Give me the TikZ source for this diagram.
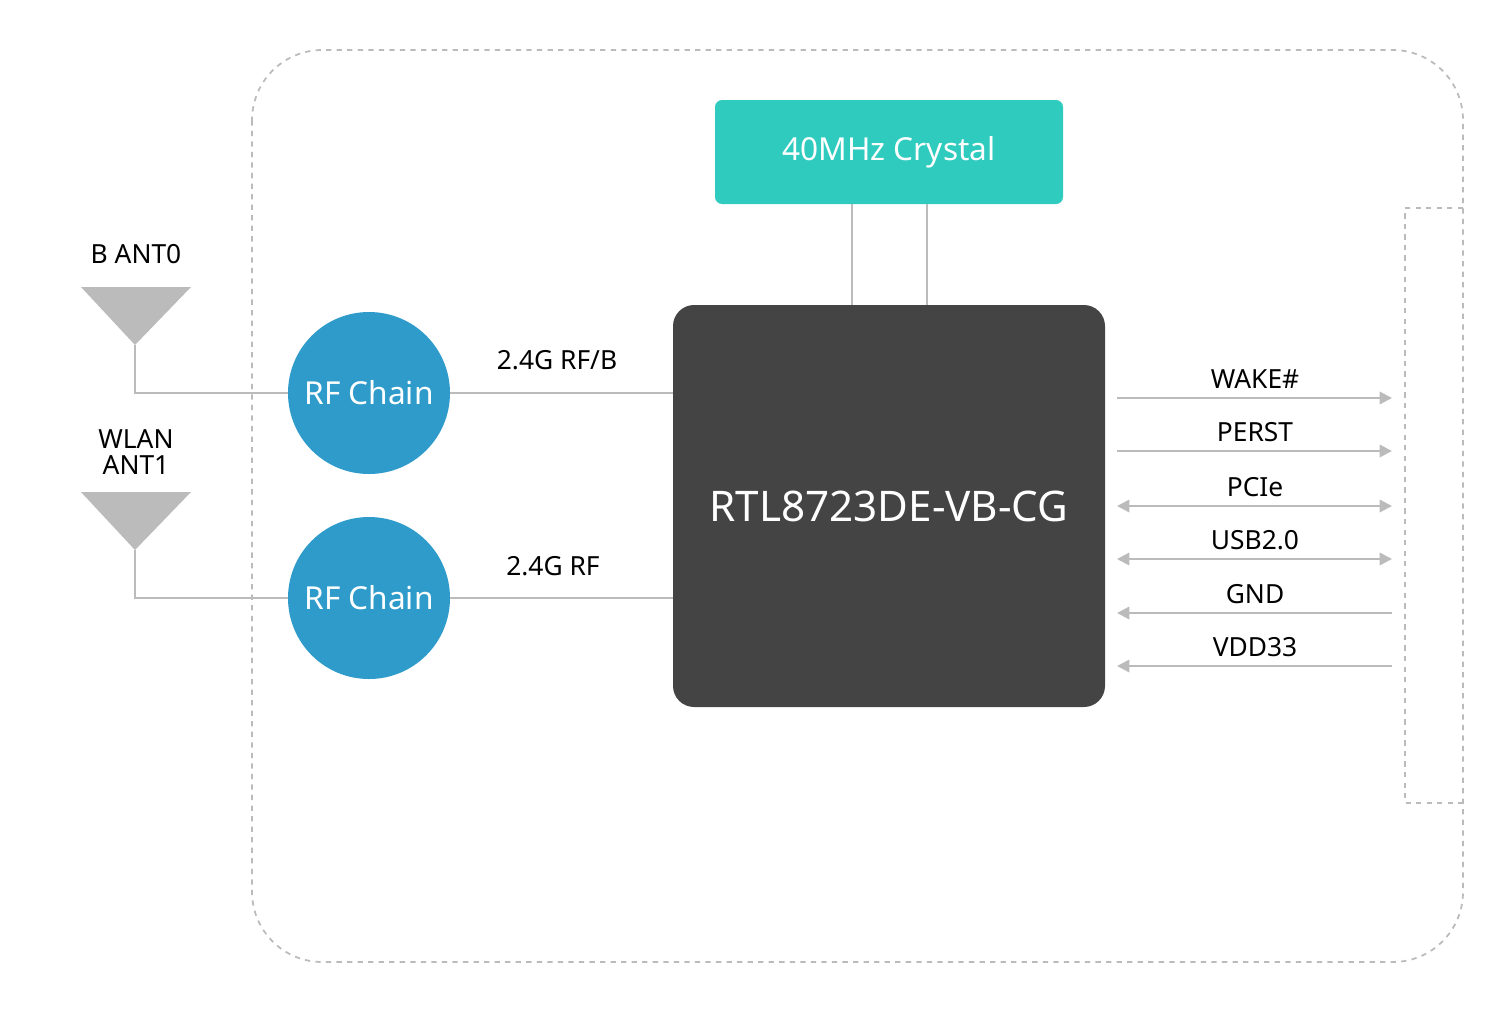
\documentclass[tikz,border=0pt]{standalone}
\usepackage{fontspec}
\setmainfont{Noto Sans}
\usetikzlibrary{arrows.meta}
\definecolor{teal1}{HTML}{2ECBBE}
\definecolor{chip}{HTML}{444444}
\definecolor{blu}{HTML}{2E9BCB}
\definecolor{ln}{HTML}{BBBBBB}
\begin{document}
\begin{tikzpicture}[x=0.02cm,y=-0.02cm,
  wire/.style={draw=ln,line width=1.3pt},
  sig/.style={draw=ln,line width=1.3pt,-{Triangle[length=7pt,width=7pt]}},
  bsig/.style={draw=ln,line width=1.3pt,{Triangle[length=7pt,width=7pt]}-{Triangle[length=7pt,width=7pt]}},
  lbl/.style={font=\fontsize{15}{16}\selectfont,text=black},
  rf/.style={circle,fill=blu,minimum size=162*0.02cm,inner sep=0,text=white,font=\fontsize{18}{19}\selectfont},
  ant/.style={fill=ln,draw=none}]
\useasboundingbox (0,0) rectangle (1501,1015);
\draw[ln,dashed,line width=1pt,rounded corners=40] (252,50) rectangle (1463,962);
\draw[ln,dashed,line width=1pt] (1463,208) -- (1405,208) -- (1405,803) -- (1463,803);
\node[fill=teal1,rounded corners=4,minimum width=348*0.02cm,minimum height=104*0.02cm,text=white,font=\fontsize{18}{19}\selectfont] (xtal) at (889,152) {40MHz Crystal};
\node[fill=chip,rounded corners=12,minimum width=432*0.02cm,minimum height=402*0.02cm,text=white,font=\fontsize{24}{25}\selectfont] (chip) at (889,506) {RTL8723DE-VB-CG};
\draw[wire] (852,204) -- (852,305);
\draw[wire] (927,204) -- (927,305);
\node[rf] (rf1) at (369,393) {RF Chain};
\node[rf] (rf2) at (369,598) {RF Chain};
\fill[ant] (81,287) -- (191,287) -- (135,345) -- cycle;
\fill[ant] (81,492) -- (191,492) -- (135,550) -- cycle;
\coordinate (a1) at (135,345);
\coordinate (a2) at (135,550);
\draw[wire] (a1) |- (rf1.west);
\draw[wire] (a2) |- (rf2.west);
\draw[wire] (rf1.east) -- (chip.west |- rf1.east);
\draw[wire] (rf2.east) -- (chip.west |- rf2.east);
\node[lbl] (l1) at (557,360) {2.4G RF/B};
\node[lbl] (l2) at (553,566) {2.4G RF};
\node[lbl] (n1) at (136,254) {B ANT0};
\node[lbl,align=center,inner sep=0,font=\fontsize{15}{15}\selectfont] (n2) at (136,452) {WLAN\\ANT1};
\foreach \y/\t in {398/WAKE\#,451/PERST,506/PCIe,559/USB2.0,613/GND,666/VDD33}{
  \coordinate (s\y a) at (1117,\y);
  \coordinate (s\y b) at (1392,\y);
  \node[lbl] at (1255,\y-19) {\t};
}
\draw[sig] (s398a) -- (s398b);
\draw[sig] (s451a) -- (s451b);
\draw[bsig] (s506a) -- (s506b);
\draw[bsig] (s559a) -- (s559b);
\draw[sig] (s613b) -- (s613a);
\draw[sig] (s666b) -- (s666a);
\end{tikzpicture}
\end{document}
